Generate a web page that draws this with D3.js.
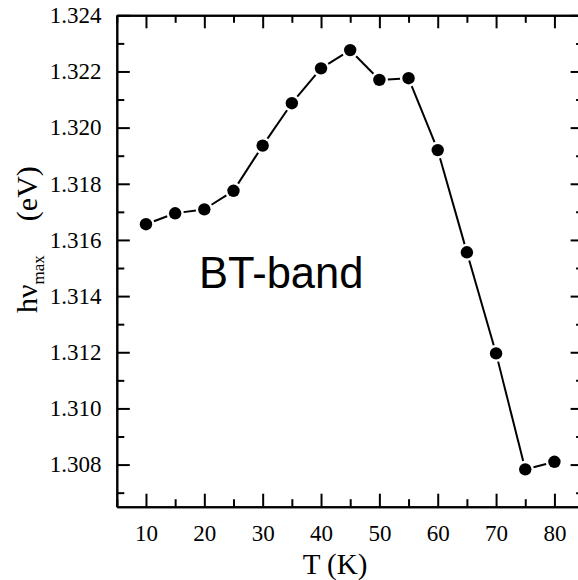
<!DOCTYPE html>
<html>
<head>
<meta charset="utf-8">
<script src="https://cdn.jsdelivr.net/npm/d3@7"></script>
<style>
  html, body { margin: 0; padding: 0; background: #fff; }
  svg { display: block; }
  .tick text { font-family: "Liberation Serif", "Times New Roman", serif; }
</style>
</head>
<body>
<svg id="chart" width="578" height="580"></svg>
<script>
// Peak photon energy of the BT band versus temperature
const temperatures = [10, 15, 20, 25, 30, 35, 40, 45, 50, 55, 60, 65, 70, 75, 80];
const peakEnergy = [1.31656, 1.31695, 1.31709, 1.31775, 1.31936, 1.32087, 1.32211, 1.32276,
                    1.32170, 1.32176, 1.31920, 1.31556, 1.31196, 1.30783, 1.30810];
const xMajorTicks = [10, 20, 30, 40, 50, 60, 70, 80];
const xMinorTicks = [5, 15, 25, 35, 45, 55, 65, 75, 85];
const yMajorTicks = [1.308, 1.310, 1.312, 1.314, 1.316, 1.318, 1.320, 1.322, 1.324];
const yMinorTicks = [1.307, 1.309, 1.311, 1.313, 1.315, 1.317, 1.319, 1.321, 1.323];

const plotLeft = 116.8, plotRight = 583.6, plotTop = 15.3, plotBottom = 506.7;
const svg = d3.select("#chart");

const x = d3.scaleLinear().domain([5, 85]).range([plotLeft, plotRight]);
const y = d3.scaleLinear().domain([1.3065, 1.324]).range([plotBottom, plotTop]);

const majorLen = 13, minorLen = 7.5, axisW = 2;

function styleAxis(g) {
  g.selectAll("path.domain").attr("stroke", "#000").attr("stroke-width", axisW);
  g.selectAll(".tick line").attr("stroke", "#000").attr("stroke-width", axisW);
  g.selectAll(".tick text").attr("fill", "#000").attr("font-size", 23);
}

// bottom axis with labels, ticks pointing inward
svg.append("g").attr("transform", `translate(0,${plotBottom})`)
  .call(d3.axisBottom(x).tickValues(xMajorTicks).tickSizeInner(-majorLen).tickSizeOuter(0)
        .tickPadding(18).tickFormat(d3.format("d")))
  .call(styleAxis);
svg.append("g").attr("transform", `translate(0,${plotBottom})`)
  .call(d3.axisBottom(x).tickValues(xMinorTicks).tickSizeInner(-minorLen).tickSizeOuter(0).tickFormat(""))
  .call(styleAxis);

// top frame axis
svg.append("g").attr("transform", `translate(0,${plotTop})`)
  .call(d3.axisTop(x).tickValues(xMajorTicks).tickSizeInner(-majorLen).tickSizeOuter(0).tickFormat(""))
  .call(styleAxis);
svg.append("g").attr("transform", `translate(0,${plotTop})`)
  .call(d3.axisTop(x).tickValues(xMinorTicks).tickSizeInner(-minorLen).tickSizeOuter(0).tickFormat(""))
  .call(styleAxis);

// left axis with labels
svg.append("g").attr("transform", `translate(${plotLeft},0)`)
  .call(d3.axisLeft(y).tickValues(yMajorTicks).tickSizeInner(-majorLen).tickSizeOuter(0)
        .tickPadding(15.3).tickFormat(d3.format(".3f")))
  .call(styleAxis);
svg.append("g").attr("transform", `translate(${plotLeft},0)`)
  .call(d3.axisLeft(y).tickValues(yMinorTicks).tickSizeInner(-minorLen).tickSizeOuter(0).tickFormat(""))
  .call(styleAxis);

// right frame axis
svg.append("g").attr("transform", `translate(${plotRight},0)`)
  .call(d3.axisRight(y).tickValues(yMajorTicks).tickSizeInner(-majorLen).tickSizeOuter(0).tickFormat(""))
  .call(styleAxis);
svg.append("g").attr("transform", `translate(${plotRight},0)`)
  .call(d3.axisRight(y).tickValues(yMinorTicks).tickSizeInner(-minorLen).tickSizeOuter(0).tickFormat(""))
  .call(styleAxis);

// connecting segments, trimmed short of each symbol
const pts = temperatures.map((t, i) => [x(t), y(peakEnergy[i])]);
const gap = 8.5;
const segs = d3.pairs(pts).map(([a, b]) => {
  const dx = b[0] - a[0], dy = b[1] - a[1];
  const len = Math.hypot(dx, dy);
  const ux = dx / len, uy = dy / len;
  return [a[0] + ux * gap, a[1] + uy * gap, b[0] - ux * gap, b[1] - uy * gap, len];
}).filter(s => s[4] > 2 * gap);

svg.append("g").selectAll("line").data(segs).join("line")
  .attr("x1", d => d[0]).attr("y1", d => d[1])
  .attr("x2", d => d[2]).attr("y2", d => d[3])
  .attr("stroke", "#000").attr("stroke-width", 2);

svg.append("g").selectAll("circle").data(temperatures).join("circle")
  .attr("cx", d => x(d))
  .attr("cy", (d, i) => y(peakEnergy[i]))
  .attr("r", 6.2)
  .attr("fill", "#000");

// axis titles
svg.append("text")
  .attr("x", 335).attr("y", 574)
  .attr("text-anchor", "middle")
  .attr("font-family", "Liberation Serif, Times New Roman, serif")
  .attr("font-size", 29)
  .text("T (K)");

const yTitle = svg.append("text")
  .attr("transform", "translate(37,313) rotate(-90)")
  .attr("font-family", "Liberation Serif, Times New Roman, serif")
  .attr("font-size", 30);
yTitle.append("tspan").text("hν");
yTitle.append("tspan").attr("dy", 7).attr("font-size", 17).text("max");
yTitle.append("tspan").attr("dy", -7).attr("dx", 34).text("(eV)");

// band label
svg.append("text")
  .attr("x", 199).attr("y", 288)
  .attr("font-family", "Liberation Sans, Arial, sans-serif")
  .attr("font-size", 43.5)
  .text("BT-band");
</script>
</body>
</html>
